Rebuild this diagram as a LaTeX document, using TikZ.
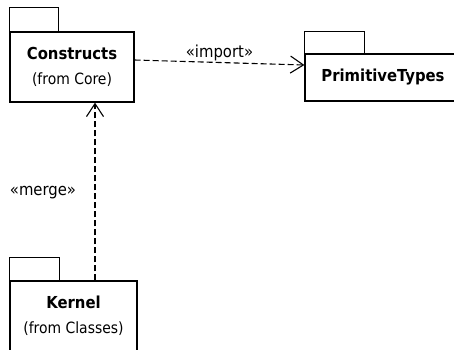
\documentclass[tikz,border=0pt]{standalone}
\usepackage{fontspec}
\setmainfont{DejaVu Sans Condensed}
\usetikzlibrary{arrows.meta,positioning}

\tikzset{
  pkg/.style={draw, line width=1.2pt, rectangle, inner sep=0pt, align=center,
    font=\fontsize{15.5}{25}\selectfont},
  pkgtab/.style={draw, line width=1.2pt},
  dep/.style={draw, line width=1.1pt, dash pattern=on 6pt off 3pt,
    -{Straight Barb[length=13pt,width=17pt,line width=1.1pt]}},
  stereo/.style={font=\fontsize{16.5}{18}\selectfont, inner sep=1pt}
}
\newcommand{\pkgname}[1]{{\fontsize{16.5}{25}\selectfont\bfseries #1}}

\begin{document}
\begin{tikzpicture}[x=1pt,y=-1pt]
\useasboundingbox (0,0) rectangle (454,349);
\clip (0,0) rectangle (454,349);

% package bodies
\node[pkg, minimum width=124pt, minimum height=70pt] (cons) at (72,67)
  {\pkgname{Constructs}\\(from Core)};
\node[pkg, minimum width=156pt, minimum height=47pt] (prim) at (383,77.5)
  {\pkgname{PrimitiveTypes}};
\node[pkg, minimum width=127pt, minimum height=70pt] (kern) at (73.5,316)
  {\pkgname{Kernel}\\(from Classes)};

% tabs
\draw[pkgtab] (cons.north west) rectangle ++(49,-24);
\draw[pkgtab] (prim.north west) rectangle ++(60,-22);
\draw[pkgtab] (kern.north west) rectangle ++(50,-23);

% dependencies
\draw[dep] ([yshift=7pt]cons.east) -- ([yshift=12.5pt]prim.west)
  node[stereo, midway, above=0pt] (imp) {«import»};
\coordinate (mtop) at ([xshift=21.5pt]kern.north |- cons.south);
\draw[dep] ([xshift=21.5pt]kern.north) -- (mtop);
\node[stereo] (mrg) at (43,193) {«merge»};
\end{tikzpicture}
\end{document}
